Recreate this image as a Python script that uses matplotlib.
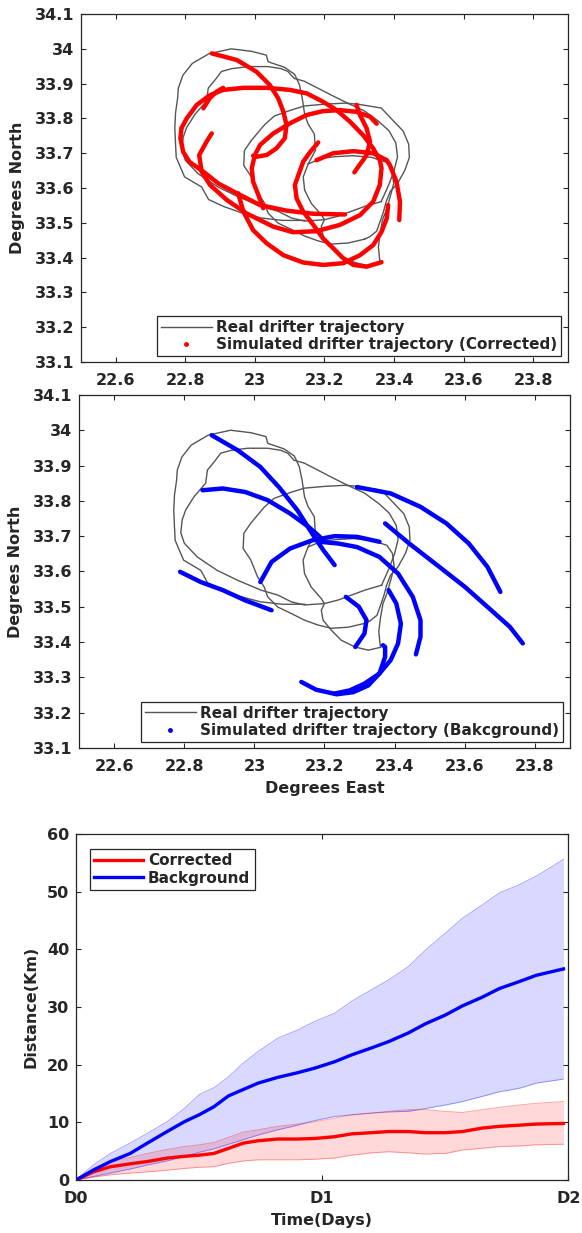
import numpy as np
import matplotlib
matplotlib.use('Agg')
import matplotlib.pyplot as plt
from matplotlib.lines import Line2D
from matplotlib.ticker import FuncFormatter

plt.rcParams['font.family'] = ['DejaVu Sans']
plt.rcParams['font.weight'] = 'bold'
plt.rcParams['axes.labelweight'] = 'bold'
TXT = '#262626'

# ---- real drifter trajectory (pieces of the same track)
g1_lon = [23.144, 23.080, 23.017, 22.964, 22.910, 22.867, 22.847, 22.798, 22.774, 22.772, 22.770, 22.772,
          22.778, 22.780, 22.793, 22.820, 22.868, 22.932, 22.990, 23.033, 23.038, 23.085, 23.114, 23.128,
          23.136, 23.143, 23.153, 23.171, 23.174, 23.153, 23.139, 23.143, 23.162, 23.191, 23.200, 23.191,
          23.196, 23.220, 23.248, 23.287, 23.325, 23.360]
g1_lat = [33.507, 33.507, 33.514, 33.528, 33.547, 33.567, 33.603, 33.632, 33.688, 33.726, 33.773, 33.816,
          33.858, 33.887, 33.924, 33.958, 33.986, 34.000, 33.993, 33.982, 33.963, 33.947, 33.927, 33.897,
          33.859, 33.812, 33.784, 33.755, 33.708, 33.669, 33.632, 33.594, 33.556, 33.523, 33.509, 33.490,
          33.462, 33.433, 33.405, 33.386, 33.377, 33.385]
g2_lon = [23.363, 23.315, 23.277, 23.239, 23.200, 23.143, 23.105, 23.067, 23.019, 22.952, 22.894, 22.837,
          22.800, 22.790, 22.794, 22.804, 22.828, 22.861, 22.866, 22.889, 22.904, 22.933, 22.981, 23.038,
          23.076, 23.095, 23.113, 23.142, 23.181, 23.220, 23.248, 23.277, 23.314, 23.354, 23.385, 23.405,
          23.410, 23.400, 23.385, 23.363]
g2_lat = [33.561, 33.547, 33.533, 33.519, 33.509, 33.505, 33.514, 33.533, 33.547, 33.575, 33.603, 33.641,
          33.680, 33.710, 33.746, 33.774, 33.812, 33.850, 33.887, 33.915, 33.935, 33.943, 33.949, 33.949,
          33.943, 33.935, 33.915, 33.907, 33.887, 33.867, 33.853, 33.839, 33.822, 33.793, 33.765, 33.730,
          33.690, 33.650, 33.610, 33.561]
g3_lon = [23.315, 23.268, 23.220, 23.182, 23.143, 23.105, 23.067, 23.038, 23.028, 23.009, 22.990, 22.968,
          22.970, 22.990, 23.028, 23.056, 23.104, 23.143, 23.201, 23.258, 23.296, 23.363, 23.399, 23.426,
          23.442, 23.444, 23.431, 23.410, 23.389, 23.377, 23.370, 23.360, 23.350, 23.330, 23.315]
g3_lat = [33.453, 33.442, 33.439, 33.448, 33.462, 33.481, 33.499, 33.528, 33.556, 33.585, 33.632, 33.665,
          33.708, 33.737, 33.782, 33.807, 33.824, 33.836, 33.841, 33.844, 33.841, 33.830, 33.792, 33.764,
          33.726, 33.688, 33.651, 33.613, 33.590, 33.560, 33.533, 33.504, 33.476, 33.460, 33.453]
g4_lon = [23.153, 23.190, 23.229, 23.282, 23.336, 23.378, 23.394, 23.399, 23.389, 23.378, 23.367, 23.360,
          23.355, 23.358, 23.360]
g4_lat = [33.669, 33.685, 33.690, 33.693, 33.688, 33.674, 33.651, 33.613, 33.575, 33.537, 33.509, 33.470,
          33.430, 33.400, 33.385]
real_pieces = [(g1_lon, g1_lat), (g2_lon, g2_lat), (g3_lon, g3_lat), (g4_lon, g4_lat)]

# ---- simulated drifters, corrected
c1_lon = [22.876, 22.948, 23.005, 23.043, 23.067, 23.082, 23.091, 23.086, 23.062, 23.034, 23.005, 22.995]
c1_lat = [33.987, 33.968, 33.934, 33.896, 33.858, 33.819, 33.781, 33.743, 33.714, 33.695, 33.690, 33.693]
c2_lon = [22.789, 22.804, 22.833, 22.871, 22.909, 22.967, 23.034, 23.101, 23.149, 23.196, 23.235, 23.273,
          23.311, 23.340, 23.359, 23.364, 23.359, 23.340, 23.302, 23.244, 23.177, 23.110, 23.053, 22.976,
          22.919, 22.871, 22.847, 22.840, 22.861, 22.876]
c2_lat = [33.772, 33.800, 33.839, 33.867, 33.882, 33.888, 33.888, 33.882, 33.872, 33.848, 33.824, 33.791,
          33.752, 33.714, 33.680, 33.657, 33.609, 33.561, 33.522, 33.494, 33.476, 33.473, 33.489, 33.527,
          33.566, 33.609, 33.647, 33.695, 33.733, 33.757]
c3_lon = [22.852, 22.870, 22.890, 22.909]
c3_lat = [33.829, 33.858, 33.877, 33.888]
c4_lon = [22.789, 22.786, 22.794, 22.812, 22.852, 22.895, 22.948, 23.015, 23.091, 23.168, 23.259]
c4_lat = [33.772, 33.743, 33.704, 33.675, 33.647, 33.613, 33.585, 33.551, 33.535, 33.526, 33.524]
c5_lon = [23.024, 23.010, 22.995, 22.991, 23.000, 23.015, 23.053, 23.101, 23.149, 23.196, 23.244, 23.292,
          23.331, 23.350]
c5_lat = [33.542, 33.580, 33.618, 33.657, 33.695, 33.724, 33.757, 33.786, 33.810, 33.821, 33.824, 33.819,
          33.805, 33.785]
c6_lon = [23.292, 23.302, 23.321, 23.331, 23.321, 23.311, 23.297, 23.286]
c6_lat = [33.839, 33.810, 33.772, 33.733, 33.695, 33.680, 33.661, 33.645]
c7_lon = [23.182, 23.160, 23.139, 23.125, 23.115, 23.120, 23.139, 23.168, 23.196, 23.225, 23.254, 23.283,
          23.321, 23.364]
c7_lat = [33.731, 33.705, 33.676, 33.637, 33.609, 33.570, 33.532, 33.494, 33.455, 33.427, 33.398, 33.379,
          33.374, 33.387]
c8_lon = [23.177, 23.225, 23.283, 23.340, 23.379, 23.388, 23.407, 23.417, 23.415]
c8_lat = [33.680, 33.700, 33.706, 33.700, 33.680, 33.666, 33.618, 33.561, 33.508]
c9_lon = [22.952, 22.967, 22.995, 23.034, 23.082, 23.139, 23.196, 23.254, 23.302, 23.340, 23.364, 23.379,
          23.383]
c9_lat = [33.585, 33.532, 33.479, 33.441, 33.407, 33.386, 33.379, 33.384, 33.407, 33.436, 33.474, 33.513,
          33.551]
corrected_tracks = [(c1_lon, c1_lat), (c2_lon, c2_lat), (c3_lon, c3_lat), (c4_lon, c4_lat),
                    (c5_lon, c5_lat), (c6_lon, c6_lat), (c7_lon, c7_lat), (c8_lon, c8_lat),
                    (c9_lon, c9_lat)]

# ---- simulated drifters, background
b1_lon = [22.878, 22.953, 23.017, 23.070, 23.123, 23.165, 23.197, 23.229]
b1_lat = [33.986, 33.943, 33.896, 33.839, 33.773, 33.707, 33.660, 33.618]
b2_lon = [22.852, 22.910, 22.974, 23.038, 23.102, 23.155, 23.187]
b2_lat = [33.830, 33.835, 33.825, 33.802, 33.764, 33.726, 33.698]
b3_lon = [23.017, 23.049, 23.102, 23.165, 23.229, 23.293, 23.357]
b3_lat = [33.570, 33.627, 33.665, 33.688, 33.700, 33.698, 33.684]
b4_lon = [23.187, 23.240, 23.293, 23.357, 23.410, 23.452, 23.474, 23.474, 23.461]
b4_lat = [33.684, 33.679, 33.669, 33.641, 33.594, 33.528, 33.462, 33.415, 33.365]
b5_lon = [23.293, 23.389, 23.474, 23.548, 23.612, 23.665, 23.702]
b5_lat = [33.839, 33.821, 33.783, 33.736, 33.679, 33.613, 33.542]
b6_lon = [23.373, 23.442, 23.516, 23.601, 23.676, 23.729, 23.766]
b6_lat = [33.736, 33.679, 33.622, 33.556, 33.490, 33.443, 33.396]
b7_lon = [22.788, 22.847, 22.910, 22.974, 23.049]
b7_lat = [33.599, 33.570, 33.547, 33.518, 33.490]
b8_lon = [23.261, 23.298, 23.320, 23.314, 23.288]
b8_lat = [33.528, 33.500, 33.462, 33.424, 33.386]
b9_lon = [23.383, 23.405, 23.418, 23.410, 23.389, 23.357, 23.314, 23.272, 23.229]
b9_lat = [33.547, 33.509, 33.452, 33.396, 33.349, 33.311, 33.282, 33.263, 33.254]
b10_lon = [23.134, 23.176, 23.235, 23.282, 23.325, 23.357, 23.373, 23.373, 23.367]
b10_lat = [33.287, 33.265, 33.252, 33.258, 33.277, 33.311, 33.358, 33.386, 33.391]
background_tracks = [(b1_lon, b1_lat), (b2_lon, b2_lat), (b3_lon, b3_lat), (b4_lon, b4_lat),
                     (b5_lon, b5_lat), (b6_lon, b6_lat), (b7_lon, b7_lat), (b8_lon, b8_lat),
                     (b9_lon, b9_lat), (b10_lon, b10_lat)]

# ---- separation distance vs time
t_days = [0, 0.07, 0.14, 0.22, 0.29, 0.37, 0.44, 0.50, 0.56, 0.62, 0.68, 0.74, 0.82, 0.90, 0.97,
          1.05, 1.12, 1.20, 1.27, 1.35, 1.42, 1.50, 1.57, 1.65, 1.72, 1.80, 1.87, 1.98]
bg_mean = [0, 1.7, 3.2, 4.6, 6.4, 8.4, 10.1, 11.3, 12.7, 14.6, 15.7, 16.8, 17.8, 18.6, 19.4,
           20.5, 21.7, 22.9, 24.0, 25.5, 27.1, 28.6, 30.2, 31.7, 33.2, 34.4, 35.5, 36.6]
bg_upper = [0, 2.6, 4.6, 6.4, 8.1, 10.1, 12.4, 14.8, 16.0, 17.9, 20.3, 22.3, 24.6, 26.0, 27.5,
            28.9, 31.0, 33.0, 34.7, 37.0, 39.9, 42.8, 45.4, 47.7, 49.8, 51.2, 52.7, 55.6]
bg_lower = [0, 0.6, 1.2, 1.9, 2.6, 3.3, 4.1, 4.8, 5.4, 6.2, 7.0, 7.8, 8.7, 9.5, 10.3,
            11.0, 11.3, 11.6, 11.8, 11.9, 12.4, 13.0, 13.6, 14.5, 15.3, 15.9, 16.8, 17.5]
cor_mean = [0, 1.4, 2.3, 2.8, 3.2, 3.8, 4.1, 4.3, 4.6, 5.5, 6.4, 6.8, 7.1, 7.1, 7.2,
            7.5, 8.0, 8.2, 8.4, 8.4, 8.2, 8.2, 8.4, 9.0, 9.3, 9.5, 9.7, 9.8]
cor_upper = [0, 2.0, 3.2, 3.9, 4.6, 5.3, 5.8, 6.1, 6.5, 7.4, 8.3, 8.7, 9.3, 9.7, 10.1,
             10.7, 11.3, 11.6, 11.9, 12.2, 12.2, 11.9, 11.7, 12.2, 12.6, 13.0, 13.3, 13.6]
cor_lower = [0, 0.5, 0.9, 1.2, 1.4, 1.7, 2.0, 2.2, 2.3, 2.9, 3.3, 3.5, 3.5, 3.5, 3.6,
             3.8, 4.3, 4.7, 4.9, 4.7, 4.5, 4.6, 5.2, 5.5, 5.8, 5.9, 6.1, 6.2]


def style_axes(ax):
    for s in ax.spines.values():
        s.set_color(TXT)
        s.set_linewidth(0.9)
    ax.tick_params(direction='in', length=3.5, width=0.8, colors=TXT, labelsize=11.5,
                   top=True, right=True, pad=5)
    ax.tick_params(axis='x', pad=8)
    for lab in ax.get_xticklabels() + ax.get_yticklabels():
        lab.set_fontweight('bold')


def map_panel(ax, tracks, color, label):
    for lon, lat in real_pieces:
        ax.plot(lon, lat, color='#555555', lw=1.0, zorder=2)
    for lon, lat in tracks:
        ax.plot(lon, lat, color=color, lw=3.2, solid_capstyle='round', zorder=3)
    ax.set_xlim(22.5, 23.9)
    ax.set_ylim(33.1, 34.1)
    ax.set_xticks(np.arange(22.6, 23.81, 0.2))
    ax.set_yticks(np.arange(33.1, 34.11, 0.1))
    ax.xaxis.set_major_formatter(FuncFormatter(lambda v, p: '%g' % round(v, 1)))
    ax.yaxis.set_major_formatter(FuncFormatter(lambda v, p: '%g' % round(v, 1)))
    ax.set_ylabel('Degrees North', fontsize=11.5, color=TXT, labelpad=7)
    handles = [Line2D([], [], color='#555555', lw=1.0),
               Line2D([], [], color=color, ls='none', marker='.', markersize=5)]
    leg = ax.legend(handles, ['Real drifter trajectory', label], loc='lower right',
                    bbox_to_anchor=(0.986, 0.017), borderaxespad=0, fancybox=False,
                    framealpha=1, edgecolor=TXT, handlelength=3.3, handletextpad=0.3,
                    borderpad=0.25, labelspacing=0.15, prop={'size': 11, 'weight': 'bold'})
    leg.get_frame().set_linewidth(0.9)
    for t in leg.get_texts():
        t.set_color(TXT)
    style_axes(ax)


fig = plt.figure(figsize=(5.82, 12.33), dpi=100)

ax1 = fig.add_axes([0.139, 0.7064, 0.837, 0.2822])
map_panel(ax1, corrected_tracks, 'red', 'Simulated drifter trajectory (Corrected)')

ax2 = fig.add_axes([0.136, 0.3934, 0.843, 0.2863])
map_panel(ax2, background_tracks, 'blue', 'Simulated drifter trajectory (Bakcground)')
ax2.set_xlabel('Degrees East', fontsize=11.5, color=TXT, labelpad=5)

ax3 = fig.add_axes([0.1306, 0.043, 0.846, 0.2806])
ax3.fill_between(t_days, bg_lower, bg_upper, color='blue', alpha=0.15, lw=0)
ax3.plot(t_days, bg_upper, color='blue', alpha=0.35, lw=0.7)
ax3.plot(t_days, bg_lower, color='blue', alpha=0.35, lw=0.7)
ax3.fill_between(t_days, cor_lower, cor_upper, color='red', alpha=0.15, lw=0)
ax3.plot(t_days, cor_upper, color='red', alpha=0.35, lw=0.7)
ax3.plot(t_days, cor_lower, color='red', alpha=0.35, lw=0.7)
ax3.plot(t_days, cor_mean, color='red', lw=2.4, label='Corrected')
ax3.plot(t_days, bg_mean, color='blue', lw=2.4, label='Background')
ax3.set_xlim(0, 2)
ax3.set_ylim(0, 60)
ax3.set_xticks([0, 1, 2])
ax3.set_xticklabels(['D0', 'D1', 'D2'])
ax3.set_yticks(np.arange(0, 61, 10))
ax3.set_xlabel('Time(Days)', fontsize=11.5, color=TXT, labelpad=5)
ax3.set_ylabel('Distance(Km)', fontsize=11.5, color=TXT, labelpad=6)
leg3 = ax3.legend(loc='upper left', bbox_to_anchor=(0.028, 0.957), borderaxespad=0,
                  fancybox=False, framealpha=1, edgecolor=TXT, handlelength=3.2,
                  handletextpad=0.3, borderpad=0.3, labelspacing=0.15,
                  prop={'size': 11, 'weight': 'bold'})
leg3.get_frame().set_linewidth(0.9)
for t in leg3.get_texts():
    t.set_color(TXT)
style_axes(ax3)

fig.savefig('out.png', dpi=100)
